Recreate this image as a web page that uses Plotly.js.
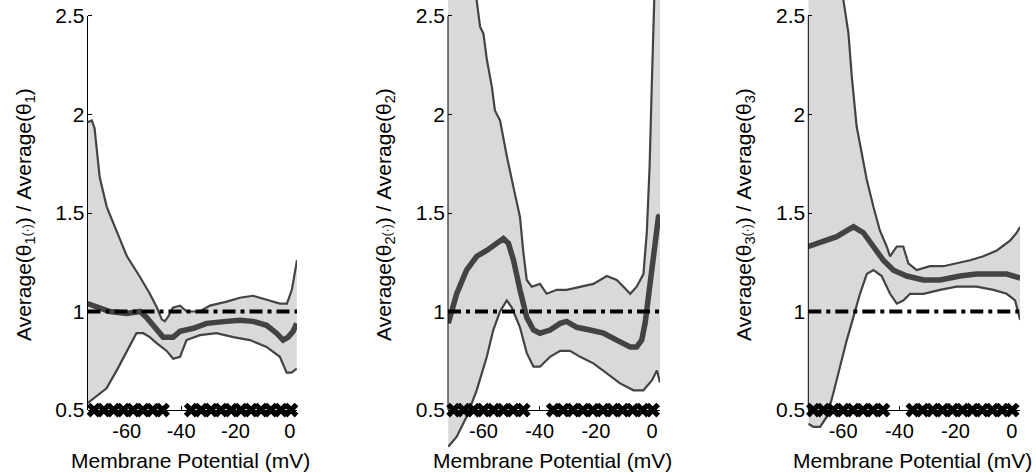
<!DOCTYPE html>
<html>
<head>
<meta charset="utf-8">
<script src="https://cdn.plot.ly/plotly-3.0.1.min.js"></script>
<style>html,body{margin:0;padding:0;background:#fff;}</style>
</head>
<body>
<div id="chart" style="width:1036px;height:473px;"></div>
<script>
// ---------- DATA ----------
// Panel 1 (theta_1)
const p1UpperX = [-74.4, -72.8, -71.8, -71.0, -69.9, -67.3, -63.6, -59.9, -55.1, -51.5, -48.9, -47.1, -46.0, -44.7, -43.0, -40.4, -37.9, -33.1, -29.4, -23.2, -18.4, -13.6, -8.5, -3.7, -1.1, 0.7, 2.6];
const p1Upper  = [1.96, 1.97, 1.93, 1.82, 1.68, 1.53, 1.40, 1.28, 1.175, 1.09, 1.02, 0.96, 0.95, 0.975, 1.02, 1.03, 1.0, 1.0, 1.03, 1.05, 1.07, 1.08, 1.06, 1.04, 1.04, 1.11, 1.26];
const p1MeanX  = [-74.4, -72.3, -69.9, -66.2, -60.0, -55.1, -52.7, -49.0, -46.6, -42.9, -40.4, -35.5, -30.6, -23.3, -18.4, -13.5, -8.6, -4.9, -2.5, -0.6, 1.2, 2.5];
const p1Mean   = [1.04, 1.03, 1.02, 1.0, 0.99, 1.0, 0.97, 0.905, 0.87, 0.87, 0.9, 0.915, 0.94, 0.95, 0.955, 0.95, 0.93, 0.89, 0.855, 0.87, 0.9, 0.94];
const p1LowerX = [-74.4, -71.1, -67.4, -63.7, -60.0, -56.4, -53.9, -51.5, -49.0, -45.3, -42.9, -40.4, -38.0, -33.1, -27.0, -20.8, -14.7, -8.6, -3.7, -1.2, 0.6, 2.5];
const p1Lower  = [0.535, 0.57, 0.61, 0.70, 0.80, 0.89, 0.89, 0.87, 0.84, 0.80, 0.76, 0.77, 0.855, 0.88, 0.89, 0.87, 0.855, 0.82, 0.77, 0.69, 0.69, 0.71];
const p1SigX   = [-72.0, -68.4, -64.8, -61.2, -57.6, -54.0, -50.4, -46.8, -36.3, -32.6, -29.0, -25.3, -21.6, -18.0, -14.3, -10.6, -7.0, -3.3, 0.4];

// Panel 2 (theta_2)
const p2UpperX = [-72.6, -68.0, -64.5, -62.4, -61.2, -60.0, -58.8, -57.0, -55.9, -54.1, -52.9, -51.7, -49.3, -47.0, -45.8, -44.6, -42.8, -39.9, -37.5, -33.9, -30.4, -25.6, -20.9, -16.1, -12.6, -10.2, -7.8, -5.5, -3.1, -1.9, -0.9, -0.1, 0.5, 1.1, 2.0, 2.8];
const p2Upper  = [3.6, 3.1, 2.75, 2.58, 2.446, 2.41, 2.28, 2.14, 2.02, 1.97, 1.87, 1.79, 1.63, 1.48, 1.30, 1.16, 1.126, 1.14, 1.09, 1.11, 1.11, 1.126, 1.14, 1.18, 1.16, 1.126, 1.09, 1.126, 1.19, 1.40, 1.735, 2.16, 2.5, 2.7, 3.2, 3.6];
const p2MeanX  = [-72.5, -71.3, -69.5, -66.0, -62.4, -58.8, -55.3, -52.9, -51.1, -49.3, -47.0, -44.6, -42.2, -39.9, -36.3, -32.7, -30.4, -26.8, -22.1, -17.3, -12.6, -7.8, -5.5, -3.7, -2.5, -1.3, -0.1, 1.07, 2.25, 2.8];
const p2Mean   = [0.94, 1.01, 1.09, 1.21, 1.28, 1.31, 1.346, 1.37, 1.346, 1.26, 1.11, 0.97, 0.906, 0.89, 0.906, 0.94, 0.95, 0.92, 0.906, 0.89, 0.855, 0.82, 0.82, 0.855, 0.94, 1.09, 1.23, 1.36, 1.48, 1.49];
const p2LowerX = [-72.5, -69.5, -66.0, -62.4, -58.8, -56.5, -54.1, -51.7, -49.9, -47.0, -44.6, -42.2, -39.9, -36.3, -32.7, -29.2, -25.6, -20.9, -16.1, -11.4, -6.6, -3.1, -0.1, 1.7, 2.8];
const p2Lower  = [0.314, 0.365, 0.466, 0.60, 0.77, 0.906, 1.0, 1.056, 1.02, 0.92, 0.79, 0.72, 0.72, 0.77, 0.80, 0.80, 0.77, 0.737, 0.686, 0.635, 0.60, 0.60, 0.65, 0.70, 0.64];
const p2SigX   = [-70.6, -67.0, -63.5, -60.0, -56.4, -52.9, -49.4, -45.8, -35.2, -31.7, -28.1, -24.6, -21.1, -17.5, -14.0, -10.5, -6.9, -3.4, 0.2];

// Panel 3 (theta_3)
const p3UpperX = [-72.4, -66.0, -62.0, -59.9, -58.1, -56.9, -55.2, -53.4, -51.6, -49.2, -46.9, -44.5, -43.3, -40.9, -38.6, -36.8, -33.8, -29.1, -24.3, -19.6, -14.8, -10.1, -5.3, -0.6, 1.8, 3.0];
const p3Upper  = [3.6, 3.0, 2.75, 2.58, 2.41, 2.19, 1.94, 1.80, 1.67, 1.53, 1.41, 1.33, 1.28, 1.33, 1.33, 1.245, 1.21, 1.23, 1.23, 1.245, 1.26, 1.28, 1.31, 1.36, 1.40, 1.43];
const p3MeanX  = [-72.4, -69.4, -65.8, -62.3, -58.7, -56.3, -52.8, -49.2, -45.7, -42.1, -37.4, -31.4, -25.5, -18.4, -12.5, -6.5, -1.8, 3.0];
const p3Mean   = [1.33, 1.346, 1.36, 1.38, 1.41, 1.43, 1.40, 1.33, 1.26, 1.21, 1.18, 1.16, 1.16, 1.18, 1.19, 1.19, 1.19, 1.17];
const p3LowerX = [-72.4, -70.6, -68.2, -65.8, -63.5, -61.1, -58.7, -56.3, -54.0, -51.6, -49.2, -46.3, -43.3, -40.9, -38.6, -36.2, -31.4, -25.5, -19.6, -12.5, -6.5, -1.8, 1.2, 2.4, 3.0];
const p3Lower  = [0.43, 0.415, 0.415, 0.466, 0.585, 0.72, 0.855, 0.974, 1.09, 1.19, 1.21, 1.18, 1.09, 1.04, 1.056, 1.09, 1.09, 1.11, 1.126, 1.126, 1.11, 1.09, 1.056, 0.99, 0.957];
const p3SigX   = [-70.6, -67.0, -63.5, -60.0, -56.4, -52.9, -49.4, -45.8, -35.2, -31.7, -28.1, -24.6, -21.1, -17.5, -14.0, -10.5, -6.9, -3.4, 0.2];

const sigLevel = 0.5;
const refLevel = 1;
const yTickVals = [0.5, 1, 1.5, 2, 2.5];
const xTickVals = [-60, -40, -20, 0];
const xTickText = ['-60', '-40', '-20', '0'];
const xTitle = 'Membrane Potential (mV)';
const yTitles = [
  'Average(θ<sub>1</sub><span style="font-size:12px">(·)</span>) / Average(θ<sub>1</sub>)',
  'Average(θ<sub>2</sub><span style="font-size:12px">(·)</span>) / Average(θ<sub>2</sub>)',
  'Average(θ<sub>3</sub><span style="font-size:12px">(·)</span>) / Average(θ<sub>3</sub>)'
];

// ---------- LAYOUT GEOMETRY ----------
const W = 1036, H = 473;
const panels = [
  {ux: p1UpperX, u: p1Upper, mx: p1MeanX, m: p1Mean, lx: p1LowerX, l: p1Lower, sx: p1SigX, px0: 87.5, px1: 297, range: [-74.4, 2.6], ytx: 25, xtx: 190},
  {ux: p2UpperX, u: p2Upper, mx: p2MeanX, m: p2Mean, lx: p2LowerX, l: p2Lower, sx: p2SigX, px0: 448, px1: 660, range: [-72.6, 2.8], ytx: 385, xtx: 552},
  {ux: p3UpperX, u: p3Upper, mx: p3MeanX, m: p3Mean, lx: p3LowerX, l: p3Lower, sx: p3SigX, px0: 808.3, px1: 1020, range: [-72.4, 2.95], ytx: 745, xtx: 912}
];
const yRange = [0.287, 2.581];
const yDomain = [(H - 452) / H, 1];
const xAxisPos = (H - 410) / H;

const lineCol = '#434343';
const fillCol = '#d9d9d9';
const font = 'Liberation Sans, Arial, sans-serif';

const traces = [];
const layout = {
  width: W, height: H,
  margin: {l: 0, r: 0, t: 0, b: 0},
  paper_bgcolor: '#fff', plot_bgcolor: 'rgba(0,0,0,0)',
  showlegend: false,
  font: {family: font, size: 20, color: '#000'},
  shapes: [], annotations: []
};

panels.forEach((p, i) => {
  const n = i + 1;
  const xa = 'x' + (n === 1 ? '' : n), ya = 'y' + (n === 1 ? '' : n);
  const xk = 'xaxis' + (n === 1 ? '' : n), yk = 'yaxis' + (n === 1 ? '' : n);
  traces.push({x: p.lx, y: p.l, xaxis: xa, yaxis: ya, type: 'scatter', mode: 'lines',
    line: {color: lineCol, width: 2.2}, hoverinfo: 'skip'});
  traces.push({x: p.ux, y: p.u, xaxis: xa, yaxis: ya, type: 'scatter', mode: 'lines',
    fill: 'tonexty', fillcolor: fillCol, line: {color: lineCol, width: 2.2}, hoverinfo: 'skip'});
  traces.push({x: p.mx, y: p.m, xaxis: xa, yaxis: ya, type: 'scatter', mode: 'lines',
    line: {color: lineCol, width: 5.5}, hoverinfo: 'skip'});
  traces.push({x: p.sx, y: p.sx.map(() => sigLevel), xaxis: xa, yaxis: ya, type: 'scatter', mode: 'markers',
    marker: {symbol: 'x', size: 13, color: '#000', line: {width: 0}}, cliponaxis: false, hoverinfo: 'skip'});

  layout[xk] = {
    domain: [p.px0 / W, p.px1 / W], range: p.range, anchor: 'free', position: xAxisPos,
    tickvals: xTickVals, ticktext: xTickText, ticks: 'inside', ticklen: 4, tickcolor: '#000',
    showline: true, linecolor: '#000', linewidth: 1, showgrid: false, zeroline: false,
    tickfont: {family: font, size: 20, color: '#000'}, ticklabelstandoff: 3, fixedrange: true
  };
  layout[yk] = {
    domain: yDomain, range: yRange, anchor: xa,
    tickvals: yTickVals, ticks: 'inside', ticklen: 4, tickcolor: '#000',
    showline: false, showgrid: false, zeroline: false,
    tickfont: {family: font, size: 21, color: '#000'}, ticklabelstandoff: 2, fixedrange: true
  };
  layout.shapes.push({type: 'line', xref: xa + ' domain', yref: ya, x0: 0, x1: 0, y0: yTickVals[0], y1: yTickVals[yTickVals.length - 1],
    line: {color: '#000', width: 1}, layer: 'above'});
  layout.shapes.push({type: 'line', xref: xa + ' domain', yref: ya, x0: 0, x1: 1, y0: refLevel, y1: refLevel,
    line: {color: '#000', width: 4, dash: '13px,5px,4px,5px'}, layer: 'above'});
  layout.annotations.push({xref: 'paper', yref: 'paper', x: p.xtx / W, y: (H - 460) / H, xanchor: 'center', yanchor: 'middle',
    text: xTitle, showarrow: false, font: {family: font, size: 21, color: '#000'}});
  layout.annotations.push({xref: 'paper', yref: 'paper', x: p.ytx / W, y: (H - 215) / H, xanchor: 'center', yanchor: 'middle',
    text: yTitles[i], textangle: -90, showarrow: false, font: {family: font, size: 21, color: '#000'}});
});

Plotly.newPlot('chart', traces, layout, {displayModeBar: false, staticPlot: true});
</script>
</body>
</html>
